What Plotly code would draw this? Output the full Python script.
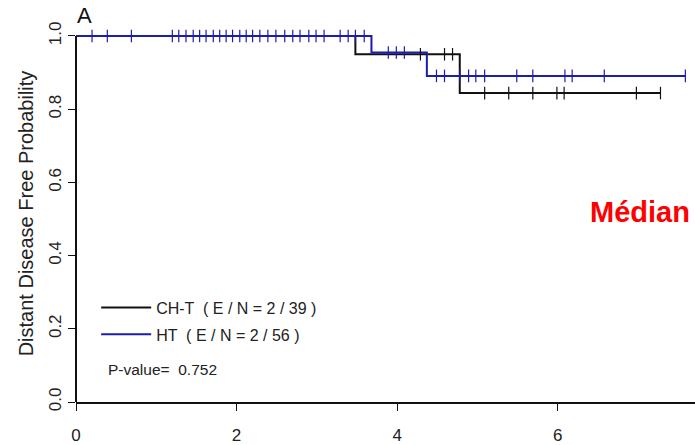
import numpy as np
import plotly.graph_objects as go

# Kaplan-Meier step data (time in years, survival probability)
cht_time = [0.0, 3.48, 4.78, 7.28]
cht_surv = [1.0, 0.950, 0.844, 0.844]
ht_time = [0.0, 3.68, 4.37, 7.59]
ht_surv = [1.0, 0.955, 0.891, 0.891]

# censoring times
cht_cens = [4.29, 4.59, 4.69, 5.09, 5.39, 5.69, 5.99, 6.08, 6.98, 7.28]
ht_cens = [0.20, 0.39, 0.69, 1.20, 1.28, 1.37, 1.46, 1.54, 1.62, 1.71, 1.79, 1.87,
           1.95, 2.04, 2.12, 2.20, 2.29, 2.39, 2.49, 2.60, 2.70, 2.79, 2.90, 2.99,
           3.09, 3.29, 3.39, 3.48, 3.59, 3.89, 3.99, 4.09, 4.49, 4.59, 4.78, 4.89,
           4.98, 5.09, 5.49, 5.69, 6.09, 6.18, 6.58, 7.59]

cht_label = "CH-T  ( E / N = 2 / 39 )"
ht_label = "HT  ( E / N = 2 / 56 )"
p_text = "P-value=  0.752"
x_ticks = [0, 2, 4, 6]
y_ticks = [0.0, 0.2, 0.4, 0.6, 0.8, 1.0]


def step_at(times, surv, t):
    idx = np.searchsorted(np.array(times), np.array(t), side="right") - 1
    return np.array(surv)[idx]


BLACK = "#111111"
BLUE = "#1c1cae"
FONT = "Liberation Sans, Arial, sans-serif"

fig = go.Figure()
fig.add_trace(go.Scatter(x=cht_time, y=cht_surv, mode="lines", line_shape="hv",
                         line=dict(color=BLACK, width=2), name=cht_label,
                         legendgroup="a"))
fig.add_trace(go.Scatter(x=ht_time, y=ht_surv, mode="lines", line_shape="hv",
                         line=dict(color=BLUE, width=2), name=ht_label,
                         legendgroup="b"))
fig.add_trace(go.Scatter(x=cht_cens, y=step_at(cht_time, cht_surv, cht_cens),
                         mode="markers", showlegend=False, cliponaxis=False,
                         marker=dict(symbol="line-ns", size=9,
                                     line=dict(color=BLACK, width=1.2))))
fig.add_trace(go.Scatter(x=ht_cens, y=step_at(ht_time, ht_surv, ht_cens),
                         mode="markers", showlegend=False, cliponaxis=False,
                         marker=dict(symbol="line-ns", size=9,
                                     line=dict(color=BLUE, width=1.2))))

# y axis line spanning 0..1 (R style)
fig.add_shape(type="line", xref="paper", x0=0, x1=0, yref="y", y0=0, y1=1.0,
              line=dict(color=BLACK, width=2))

fig.add_annotation(text="A", xref="paper", yref="paper", x=-0.002, y=1.026,
                   xanchor="left", yanchor="middle", showarrow=False,
                   font=dict(family=FONT, size=22, color="#111"))
fig.add_annotation(text=p_text, xref="paper", yref="y", x=0.048, y=0.088,
                   xanchor="left", yanchor="middle", showarrow=False,
                   font=dict(family=FONT, size=15.5, color="#222"))
fig.add_annotation(text="<b>Médian</b>", xref="paper", yref="y", x=0.995, y=0.52,
                   xanchor="right", yanchor="middle", showarrow=False,
                   font=dict(family=FONT, size=29, color="#ff0000"))

fig.update_layout(
    width=695, height=445,
    margin=dict(l=76, r=0, t=25, b=39),
    paper_bgcolor="white", plot_bgcolor="white",
    font=dict(family=FONT, size=16, color="#222"),
    showlegend=True,
    legend=dict(x=0.0326, y=0.2955, xanchor="left", yanchor="top",
                bgcolor="rgba(0,0,0,0)", traceorder="grouped", itemwidth=50,
                tracegroupgap=3, font=dict(family=FONT, size=16, color="#222")),
    xaxis=dict(range=[0, 7.71], tickvals=x_ticks, ticktext=[str(v) for v in x_ticks],
               showgrid=False, zeroline=False, showline=True,
               linecolor=BLACK, linewidth=2, ticks="outside", ticklen=7,
               tickcolor=BLACK, tickfont=dict(size=17, color="#222"),
               ticklabelstandoff=10),
    yaxis=dict(range=[0, 1.03], tickvals=y_ticks,
               ticktext=["%.1f" % v for v in y_ticks], tickangle=-90,
               showgrid=False, zeroline=False, showline=False,
               ticks="outside", ticklen=7, tickcolor=BLACK,
               tickfont=dict(size=17, color="#222"), ticklabelstandoff=0,
               title=dict(text="Distant Disease Free Probability",
                          font=dict(size=20, color="#222"), standoff=7)),
)

fig.write_html("out.html", config={"displayModeBar": False},
               post_script="document.body.style.margin='0';")
